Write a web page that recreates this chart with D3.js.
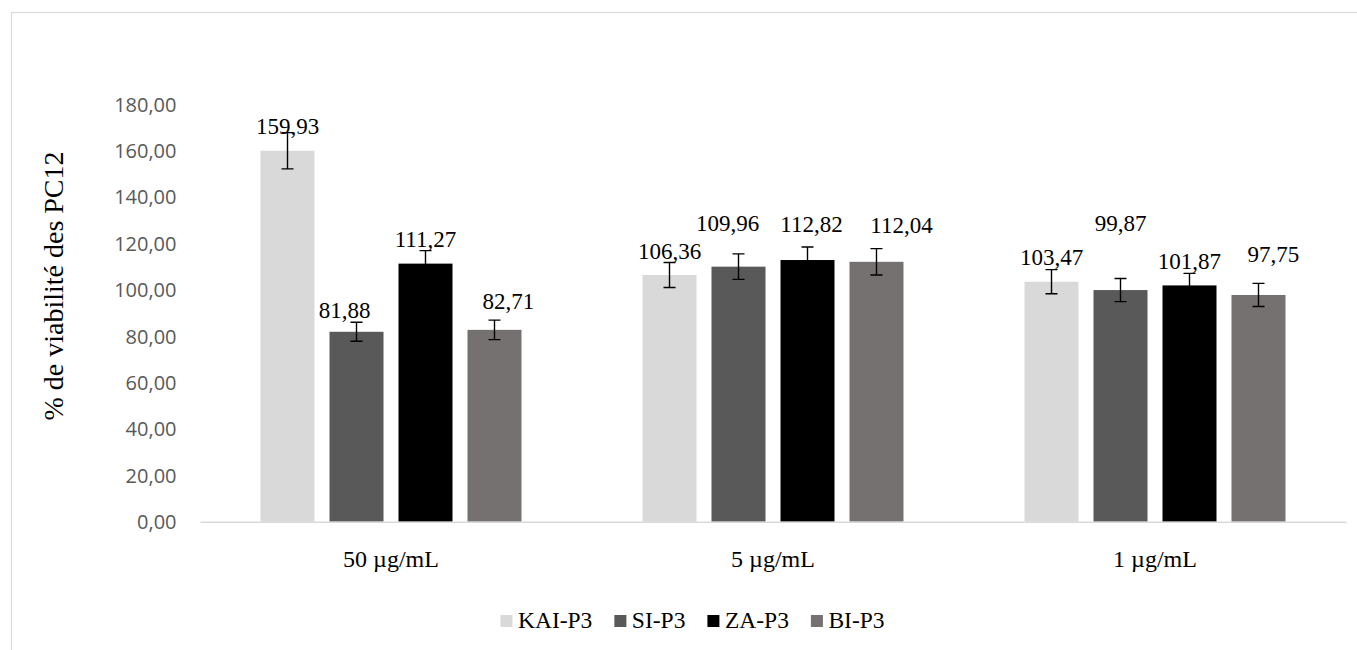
<!DOCTYPE html>
<html><head><meta charset="utf-8">
<script src="https://cdn.jsdelivr.net/npm/d3@7"></script>
<style>
html,body{margin:0;padding:0;background:#fff;}
svg{display:block;}
</style></head>
<body>
<svg id="chart" width="1357" height="650"></svg>
<script>
// ---- data ----
const categories = ["50 µg/mL", "5 µg/mL", "1 µg/mL"];
const seriesNames = ["KAI-P3", "SI-P3", "ZA-P3", "BI-P3"];
const kaiValues = [159.93, 106.36, 103.47];
const siValues  = [81.88, 109.96, 99.87];
const zaValues  = [111.27, 112.82, 101.87];
const biValues  = [82.71, 112.04, 97.75];
const kaiErrors = [7.8, 5.4, 5.2];
const siErrors  = [4.1, 5.5, 5.0];
const zaErrors  = [5.6, 5.6, 5.2];
const biErrors  = [4.2, 5.7, 5.0];
const yTicks = [0, 20, 40, 60, 80, 100, 120, 140, 160, 180];
const yTitle = "% de viabilité des PC12";

// ---- layout / style (separate from data) ----
const colors = ["#d9d9d9", "#595959", "#000000", "#767171"];
// manual label nudges [dx, dy] in px, per series then per category
const labelNudge = [
  [[0,0],[0,0],[0,0]],
  [[-12,3],[-11,-19],[0,-43]],
  [[0,0],[4,-12],[0,0]],
  [[14,-4],[25,-12.5],[15,-16]]
];

const valuesBySeries = [kaiValues, siValues, zaValues, biValues];
const errorsBySeries = [kaiErrors, siErrors, zaErrors, biErrors];
const rows = [];
seriesNames.forEach((s, si) => categories.forEach((c, ci) => rows.push({
  series: s, si, cat: c, ci, value: valuesBySeries[si][ci], err: errorsBySeries[si][ci]
})));

const svg = d3.select("#chart");
const fmt = v => d3.format(".2f")(v).replace(".", ",");
const serif = "'Liberation Serif', 'Times New Roman', serif";

// outer border
svg.append("rect").attr("x", 11.5).attr("y", 12.5).attr("width", 1400).attr("height", 700)
  .attr("fill", "none").attr("stroke", "#d9d9d9").attr("stroke-width", 1.2);

const plotLeft = 200, plotRight = 1346, plotTop = 104.2, plotBottom = 521.7;
const x0 = d3.scaleBand().domain(categories).range([plotLeft, plotRight]).padding(0);
const x1 = d3.scaleBand().domain(seriesNames).range([0, x0.bandwidth()])
  .paddingInner(15/69).paddingOuter(0.877);
const y = d3.scaleLinear().domain([0, 180]).range([plotBottom, plotTop]);

// y axis tick labels
const yAxis = d3.axisLeft(y).tickValues(yTicks).tickFormat(fmt).tickSize(0).tickPadding(0);
const gy = svg.append("g").attr("transform", `translate(${176.5},0)`).call(yAxis);
gy.select(".domain").remove();
gy.selectAll("text").attr("font-family", "'Open Sans', sans-serif").attr("font-size", 20)
  .attr("fill", "#595959").attr("dy", "0.35em");

// bars
svg.append("g").selectAll("rect").data(rows).join("rect")
  .attr("x", d => x0(d.cat) + x1(d.series))
  .attr("y", d => y(d.value))
  .attr("width", x1.bandwidth())
  .attr("height", d => y(0) - y(d.value))
  .attr("fill", d => colors[d.si]);

// x axis line
const xAxis = d3.axisBottom(x0).tickSize(0).tickPadding(0).tickFormat(() => "");
const gx = svg.append("g").attr("transform", `translate(0,${plotBottom})`).call(xAxis);
gx.select(".domain").attr("stroke", "#d9d9d9").attr("stroke-width", 1.5);
gx.selectAll(".tick text").remove();
// category labels
svg.append("g").selectAll("text").data(categories).join("text")
  .attr("x", d => x0(d) + x0.bandwidth() / 2)
  .attr("y", 566.5)
  .attr("text-anchor", "middle")
  .attr("font-family", serif)
  .attr("font-size", 24).attr("fill", "#000")
  .text(d => d);

// error bars
const cap = 6;
const eg = svg.append("g").attr("stroke", "#000").attr("stroke-width", 1.4).attr("fill", "none");
rows.forEach(d => {
  const cx = x0(d.cat) + x1(d.series) + x1.bandwidth() / 2;
  const yt = y(d.value + d.err), yb = y(d.value - d.err);
  eg.append("path").attr("d",
    `M${cx},${yt}V${yb}M${cx - cap},${yt}H${cx + cap}M${cx - cap},${yb}H${cx + cap}`);
});

// data labels
svg.append("g").selectAll("text").data(rows).join("text")
  .attr("x", d => x0(d.cat) + x1(d.series) + x1.bandwidth() / 2 + labelNudge[d.si][d.ci][0])
  .attr("y", d => y(d.value) - 16.5 + labelNudge[d.si][d.ci][1])
  .attr("text-anchor", "middle")
  .attr("font-family", serif)
  .attr("font-size", 23).attr("fill", "#000")
  .text(d => fmt(d.value));

// y title
svg.append("text")
  .attr("transform", `translate(63,286) rotate(-90)`)
  .attr("text-anchor", "middle")
  .attr("font-family", serif)
  .attr("font-size", 28).attr("fill", "#000")
  .text(yTitle);

// legend
const lg = svg.append("g");
const items = seriesNames.map((s, i) => {
  const g = lg.append("g");
  g.append("rect").attr("width", 12).attr("height", 12).attr("y", -6).attr("fill", colors[i]);
  const t = g.append("text").attr("x", 17.5).attr("y", 6.5)
    .attr("font-family", serif)
    .attr("font-size", 23.5).attr("fill", "#000").text(s);
  return { g, w: 17.5 + t.node().getComputedTextLength() };
});
const gap = 22;
const total = d3.sum(items, d => d.w) + gap * (items.length - 1);
let lx = 692.5 - total / 2;
items.forEach(it => { it.g.attr("transform", `translate(${lx},621)`); lx += it.w + gap; });
</script>
</body></html>
